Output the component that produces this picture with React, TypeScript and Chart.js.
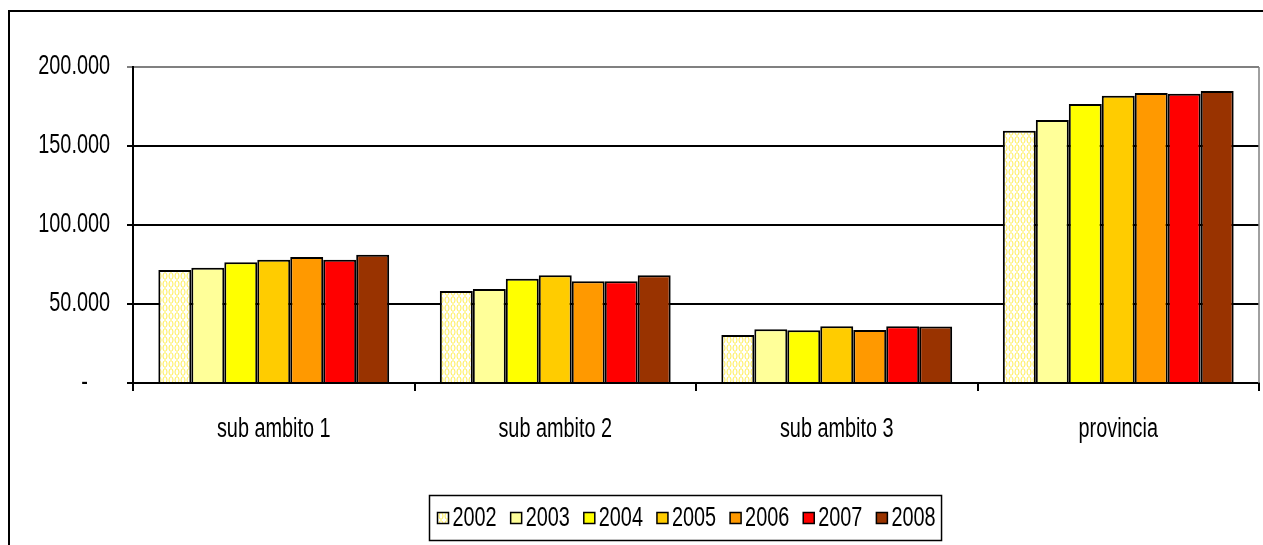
import React, { useEffect, useRef } from "react";
import { Chart, registerables } from "chart.js";

Chart.register(...registerables);

// Categories and yearly series
const categories = ["sub ambito 1", "sub ambito 2", "sub ambito 3", "provincia"];
const years = ["2002", "2003", "2004", "2005", "2006", "2007", "2008"];
const v2002 = [71500, 58200, 30400, 159700];
const v2003 = [73000, 59500, 34000, 166500];
const v2004 = [76400, 66000, 33400, 176600];
const v2005 = [78000, 68200, 35900, 181800];
const v2006 = [79700, 64400, 33500, 183500];
const v2007 = [78000, 64400, 35900, 183100];
const v2008 = [81200, 68200, 35700, 184800];
const seriesValues = [v2002, v2003, v2004, v2005, v2006, v2007, v2008];
const seriesColors = ["dotted", "#FFFF99", "#FFFF00", "#FFCC00", "#FF9900", "#FF0000", "#993300"];
const yTickValues = [0, 50000, 100000, 150000, 200000];

const FONT_FAMILY = "'Liberation Sans', Arial, sans-serif";
const FONT_SIZE = 27;
// horizontal squeeze applied to every text run, for a condensed look
const TEXT_SQUEEZE = 0.735;

// accounting-style format: thousands with dots, zero shown as an indented dash
function formatThousands(v: number): string {
  if (v === 0) return "-    ";
  return String(Math.round(v)).replace(/\B(?=(\d{3})+(?!\d))/g, ".");
}

// Wraps fillText / measureText so text is drawn horizontally condensed
function condenseText(ctx: CanvasRenderingContext2D, sx: number) {
  const fill = ctx.fillText.bind(ctx);
  const measure = ctx.measureText.bind(ctx);
  (ctx as any).fillText = (text: string, x: number, y: number, maxWidth?: number) => {
    ctx.save();
    ctx.translate(x, y);
    ctx.scale(sx, 1);
    if (maxWidth !== undefined) fill(text, 0, 0, maxWidth / sx);
    else fill(text, 0, 0);
    ctx.restore();
  };
  (ctx as any).measureText = (text: string) => {
    const m = measure(text);
    return {
      width: m.width * sx,
      actualBoundingBoxAscent: m.actualBoundingBoxAscent,
      actualBoundingBoxDescent: m.actualBoundingBoxDescent,
      actualBoundingBoxLeft: m.actualBoundingBoxLeft * sx,
      actualBoundingBoxRight: m.actualBoundingBoxRight * sx,
      fontBoundingBoxAscent: m.fontBoundingBoxAscent,
      fontBoundingBoxDescent: m.fontBoundingBoxDescent,
    };
  };
}

// Small white tile with pale yellow ovals, used for the first series
function makeOvalPattern(): CanvasPattern | string {
  const tile = document.createElement("canvas");
  tile.width = 6;
  tile.height = 8;
  const g = tile.getContext("2d");
  if (!g) return "#FFFFCC";
  g.fillStyle = "#FFFFFF";
  g.fillRect(0, 0, 6, 8);
  g.strokeStyle = "#FFEE55";
  g.lineWidth = 1;
  g.beginPath();
  g.ellipse(3, 4, 2, 3.3, 0, 0, Math.PI * 2);
  g.stroke();
  const p = g.createPattern(tile, "repeat");
  return p || "#FFFFCC";
}

// Outer frame, right plot border and boxed legend
const framePlugin = {
  id: "framePlugin",
  beforeDraw(chart: any) {
    const ctx = chart.ctx;
    ctx.save();
    ctx.fillStyle = "#FFFFFF";
    ctx.fillRect(0, 0, chart.width, chart.height);
    ctx.restore();
  },
  afterDraw(chart: any) {
    const ctx = chart.ctx as CanvasRenderingContext2D;
    const area = chart.chartArea;
    ctx.save();
    // outer frame
    ctx.strokeStyle = "#000000";
    ctx.lineWidth = 2;
    ctx.strokeRect(9, 11, chart.width + 20, chart.height + 20);
    // right edge of plot area
    ctx.strokeStyle = "#808080";
    ctx.lineWidth = 1.5;
    ctx.beginPath();
    ctx.moveTo(area.right, area.top);
    ctx.lineTo(area.right, area.bottom);
    ctx.stroke();

    // legend
    const datasets = chart.data.datasets;
    ctx.font = `${FONT_SIZE}px ${FONT_FAMILY}`;
    ctx.textBaseline = "middle";
    ctx.textAlign = "left";
    const sq = 11;
    const gap = 4;
    const spacing = 14;
    const padL = 8;
    const padR = 6;
    const widths = datasets.map((d: any) => ctx.measureText(d.label).width);
    const inner = widths.reduce((a: number, w: number) => a + sq + gap + w, 0) + spacing * (datasets.length - 1);
    const boxW = padL + inner + padR;
    const cx = (area.left + area.right) / 2 - 11;
    const boxL = Math.round(cx - boxW / 2) + 0.5;
    const boxT = 495.5;
    const boxH = 45;
    const cy = boxT + boxH / 2;
    ctx.strokeStyle = "#000000";
    ctx.lineWidth = 1.5;
    ctx.strokeRect(boxL, boxT, boxW, boxH);
    let x = boxL + padL;
    datasets.forEach((d: any, i: number) => {
      ctx.fillStyle = d.backgroundColor;
      ctx.fillRect(x, cy - sq / 2, sq, sq);
      ctx.strokeStyle = "#000000";
      ctx.lineWidth = 1.5;
      ctx.strokeRect(x, cy - sq / 2, sq, sq);
      ctx.fillStyle = "#000000";
      ctx.fillText(d.label, x + sq + gap, cy + 1);
      x += sq + gap + widths[i] + spacing;
    });
    ctx.restore();
  },
};

export default function App() {
  const canvasRef = useRef<HTMLCanvasElement | null>(null);

  useEffect(() => {
    const canvas = canvasRef.current;
    if (!canvas) return;
    const ctx2d = canvas.getContext("2d");
    if (ctx2d) condenseText(ctx2d, TEXT_SQUEEZE);
    const pattern = makeOvalPattern();

    const chart = new Chart(canvas, {
      type: "bar",
      data: {
        labels: categories,
        datasets: years.map((y, i) => ({
          label: y,
          data: seriesValues[i],
          backgroundColor: seriesColors[i] === "dotted" ? (pattern as any) : seriesColors[i],
          borderColor: "#000000",
          borderWidth: 2,
          categoryPercentage: 0.82,
          barPercentage: 1.0,
        })),
      },
      options: {
        responsive: false,
        animation: false,
        devicePixelRatio: 1,
        layout: { padding: { left: 0, right: 4, top: 67, bottom: 62 } },
        plugins: {
          legend: { display: false },
          tooltip: { enabled: false },
          title: { display: false },
        },
        scales: {
          x: {
            offset: true,
            grid: {
              display: true,
              drawOnChartArea: false,
              drawTicks: true,
              tickLength: 8,
              color: "#000000",
              lineWidth: 2,
              offset: true,
            },
            border: { display: true, color: "#000000", width: 2 },
            ticks: {
              color: "#000000",
              font: { family: FONT_FAMILY, size: FONT_SIZE },
              padding: 22,
              maxRotation: 0,
              autoSkip: false,
            },
            afterFit(scale: any) {
              scale.height = 100;
            },
          },
          y: {
            min: 0,
            max: 200000,
            afterBuildTicks(scale: any) {
              scale.ticks = yTickValues.map((v) => ({ value: v }));
            },
            grid: {
              color: (c: any) => (c.tick && c.tick.value === 200000 ? "#808080" : "#000000"),
              lineWidth: 2,
              tickLength: 6,
              drawTicks: true,
            },
            border: { display: true, color: "#000000", width: 2 },
            ticks: {
              color: "#000000",
              font: { family: FONT_FAMILY, size: FONT_SIZE },
              padding: 17,
              callback: (v: any) => formatThousands(Number(v)),
            },
            afterFit(scale: any) {
              scale.width = 133;
            },
          },
        },
      },
      plugins: [framePlugin],
    });

    return () => {
      chart.destroy();
    };
  }, []);

  return (
    <canvas
      ref={canvasRef}
      width={1263}
      height={545}
      style={{ position: "fixed", left: 0, top: 0, width: 1263, height: 545, display: "block" }}
    />
  );
}
